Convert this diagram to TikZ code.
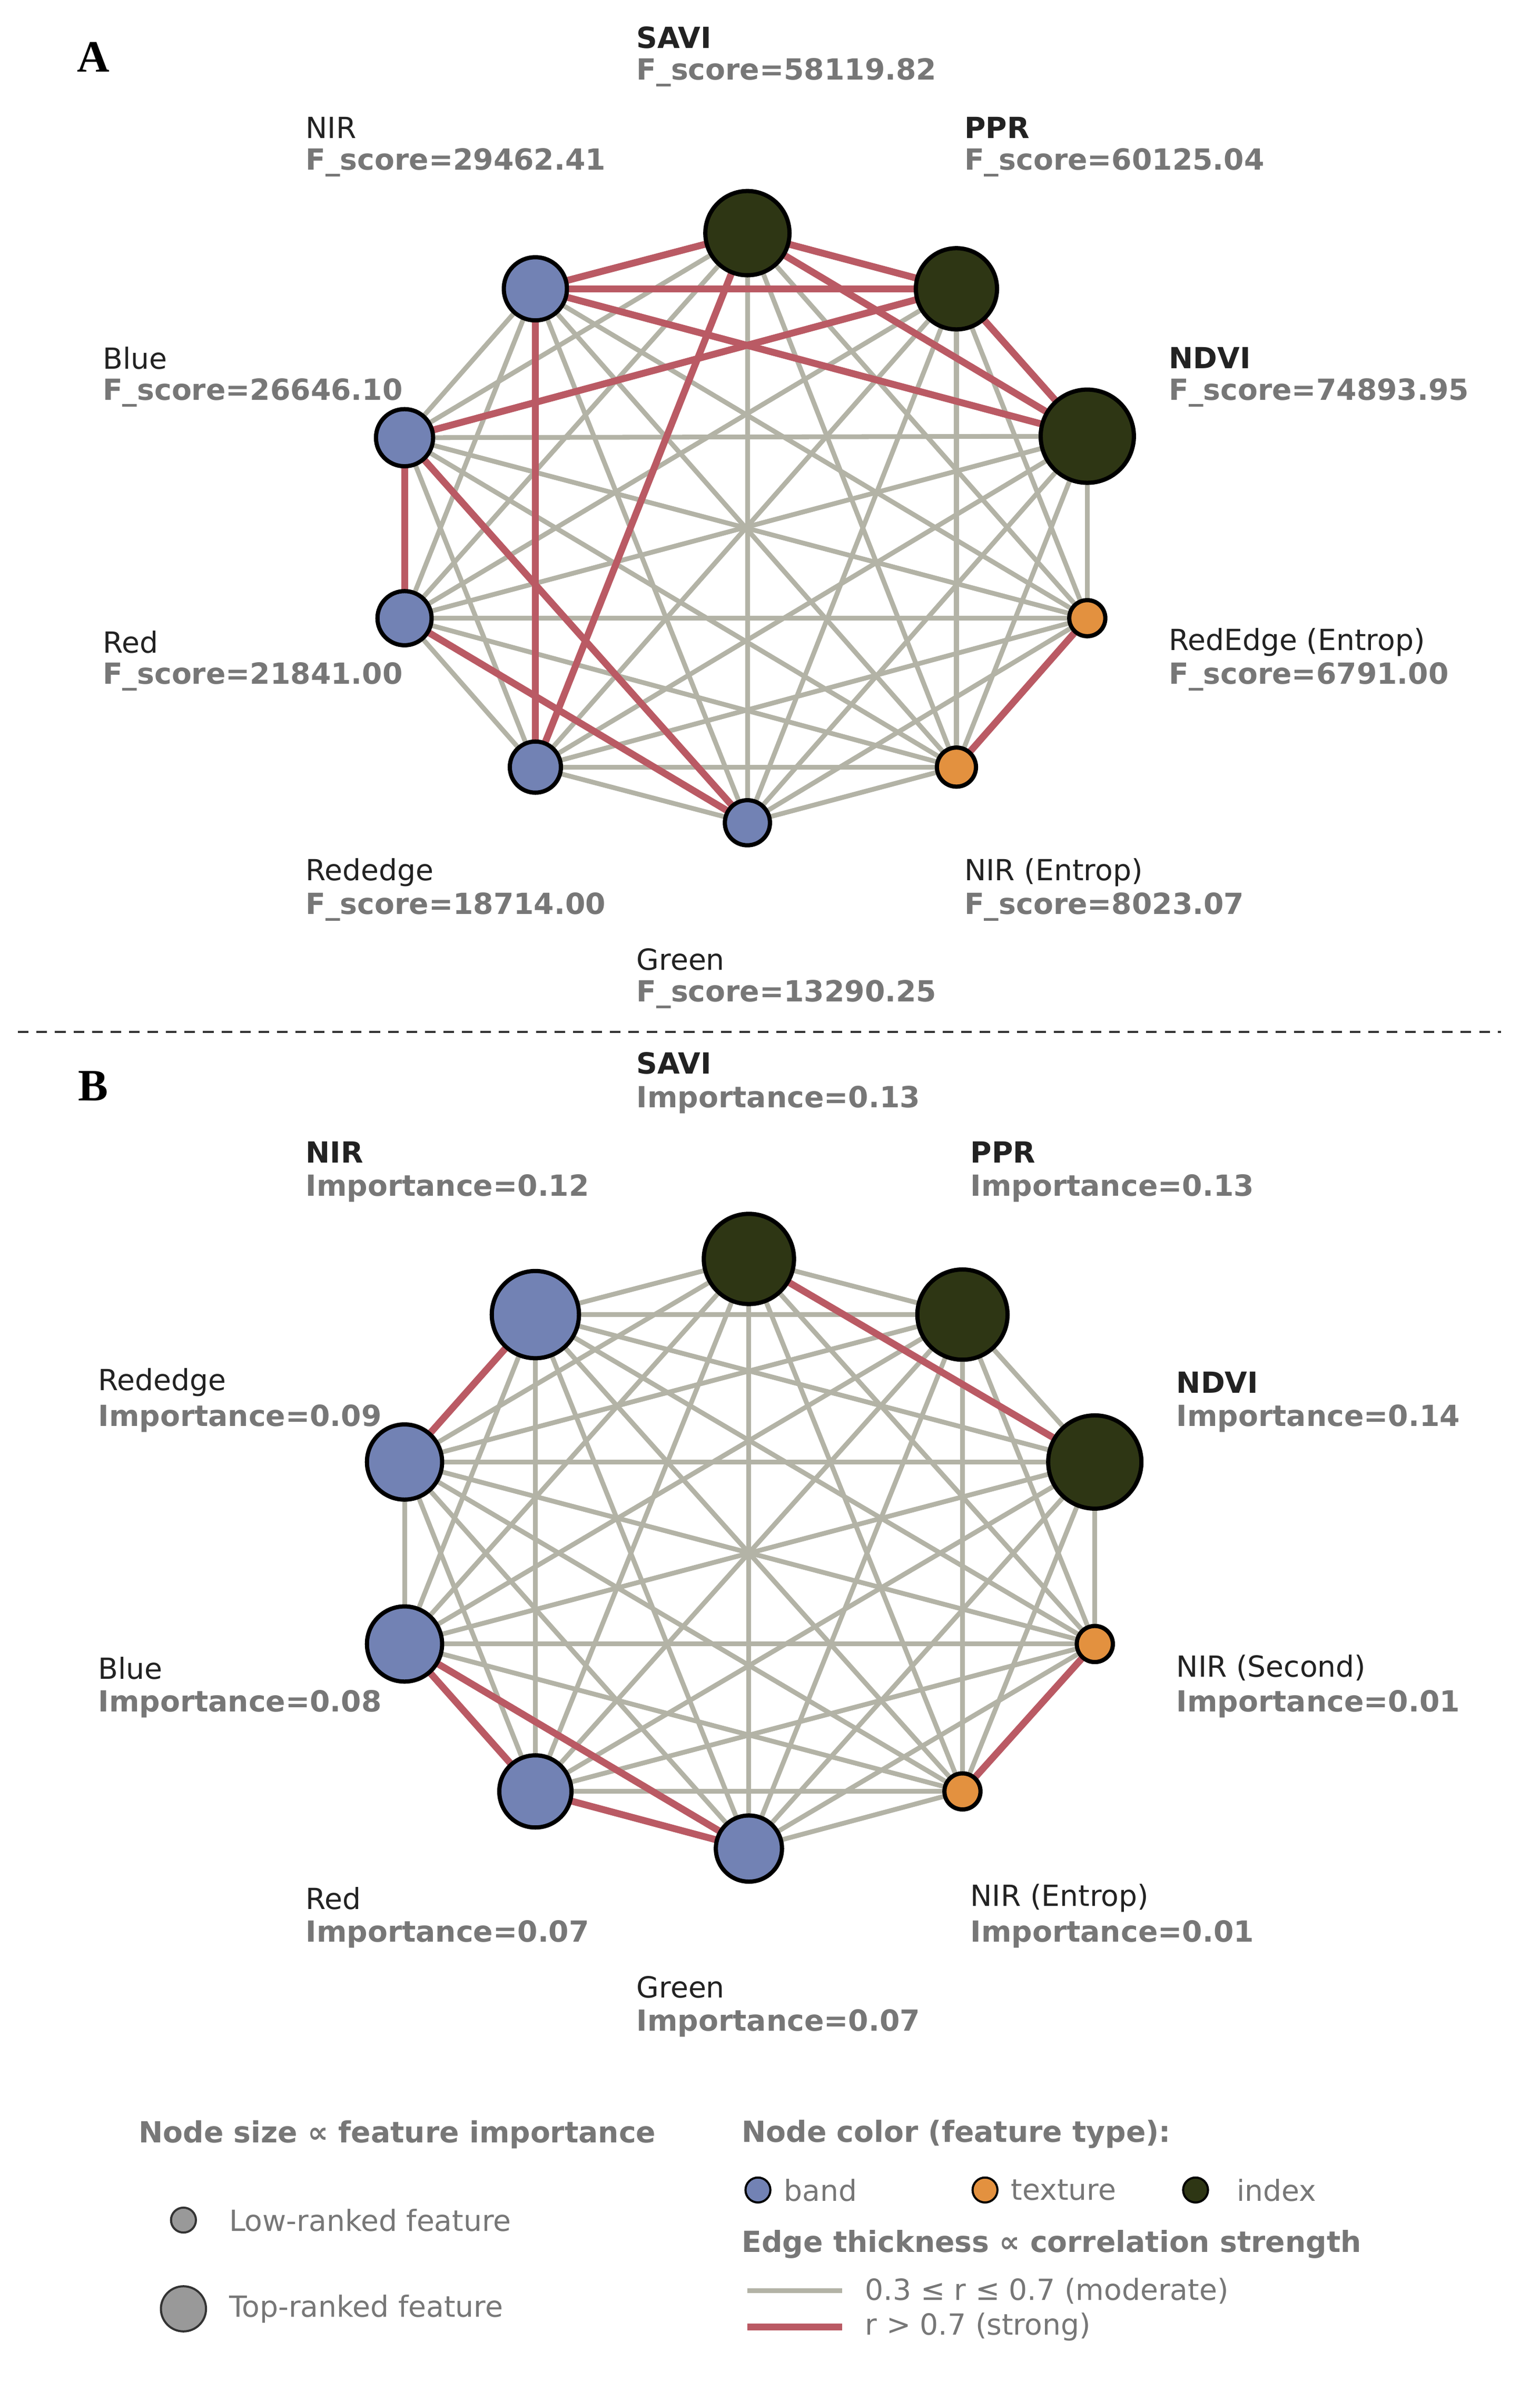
\documentclass[tikz,border=0pt]{standalone}
\usepackage{fontspec}
\setmainfont{DejaVu Sans}
\usetikzlibrary{backgrounds}
\definecolor{cband}{HTML}{7282B4}
\definecolor{ctex}{HTML}{E3913F}
\definecolor{cidx}{HTML}{2E3614}
\definecolor{cgray}{HTML}{B3B3A6}
\definecolor{cred}{HTML}{BA5A64}
\definecolor{lab}{HTML}{777777}
\definecolor{nm}{HTML}{222222}
\tikzset{
 nd/.style={circle,draw=black,line width=1.6pt,inner sep=0pt},
 ge/.style={cgray,line width=1.8pt},
 re/.style={cred,line width=2.6pt},
 tx/.style={anchor=west,inner sep=0pt,font=\fontsize{11pt}{13pt}\selectfont},
 nmn/.style={tx,text=nm},
 nmb/.style={tx,text=nm,font=\fontsize{11pt}{13pt}\selectfont\bfseries},
 val/.style={tx,text=lab,font=\fontsize{11pt}{13pt}\selectfont\bfseries},
 leg/.style={tx,text=lab},
}
\newcommand{\nd}[5]{\node[nd,fill=#4,minimum size=#5*0.04cm] (#1) at (#2,#3) {};}
\begin{document}
\begin{tikzpicture}[x=0.02cm,y=-0.02cm]
\useasboundingbox (0,0) rectangle (1024,1583);
% Panel A
\node[font=\fontsize{17pt}{19pt}\selectfont\bfseries\rmfamily] (LA) at (62,38) {\fontspec{Liberation Serif}A};
\nd{a1}{497}{155}{cidx}{28}
\nd{a2}{636}{192}{cidx}{27}
\nd{a3}{723}{290}{cidx}{31}
\nd{a4}{723}{411}{ctex}{12}
\nd{a5}{636}{510}{ctex}{13}
\nd{a6}{497}{547}{cband}{15}
\nd{a7}{356}{510}{cband}{17}
\nd{a8}{269}{411}{cband}{18}
\nd{a9}{269}{291}{cband}{19}
\nd{a10}{356}{192}{cband}{21}
\begin{scope}[on background layer]
\foreach \i in {1,...,10}{\foreach \j in {1,...,10}{\ifnum\j>\i \draw[ge] (a\i.center)--(a\j.center);\fi}}
\foreach \i/\j in {1/10,1/2,1/3,1/7,10/2,10/3,10/7,2/9,2/3,9/8,9/6,8/6,4/5}{\draw[re] (a\i.center)--(a\j.center);}
\end{scope}
\node[nmb] (t1) at (423,25) {SAVI}; \node[val] (v1) at (423,48) {F\_score=58119.82};
\node[nmn] (t2) at (203,85) {NIR}; \node[val] (v2) at (203,108) {F\_score=29462.41};
\node[nmb] (t3) at (641,85) {PPR}; \node[val] (v3) at (641,108) {F\_score=60125.04};
\node[nmn] (t4) at (68,238) {Blue}; \node[val] (v4) at (68,261) {F\_score=26646.10};
\node[nmb] (t5) at (777,238) {NDVI}; \node[val] (v5) at (777,261) {F\_score=74893.95};
\node[nmn] (t6) at (68,427) {Red}; \node[val] (v6) at (68,450) {F\_score=21841.00};
\node[nmn] (t7) at (777,427) {RedEdge (Entrop)}; \node[val] (v7) at (777,450) {F\_score=6791.00};
\node[nmn] (t8) at (203,580) {Rededge}; \node[val] (v8) at (203,603) {F\_score=18714.00};
\node[nmn] (t9) at (641,580) {NIR (Entrop)}; \node[val] (v9) at (641,603) {F\_score=8023.07};
\node[nmn] (t10) at (423,638) {Green}; \node[val] (v10) at (423,661) {F\_score=13290.25};
\coordinate (d1) at (12,686); \coordinate (d2) at (998,686);
\draw[black!80,line width=0.8pt,dash pattern=on 4pt off 3pt] (d1)--(d2);
% Panel B
\node[font=\fontsize{17pt}{19pt}\selectfont\bfseries] (LB) at (62,722) {\fontspec{Liberation Serif}B};
\nd{b1}{498}{837}{cidx}{30}
\nd{b2}{640}{874}{cidx}{30}
\nd{b3}{728}{972}{cidx}{31}
\nd{b4}{728}{1093}{ctex}{12}
\nd{b5}{640}{1191}{ctex}{12}
\nd{b6}{498}{1229}{cband}{22}
\nd{b7}{356}{1191}{cband}{24}
\nd{b8}{269}{1093}{cband}{25}
\nd{b9}{269}{972}{cband}{25}
\nd{b10}{356}{874}{cband}{29}
\begin{scope}[on background layer]
\foreach \i in {1,...,10}{\foreach \j in {1,...,10}{\ifnum\j>\i \draw[ge] (b\i.center)--(b\j.center);\fi}}
\foreach \i/\j in {10/9,1/3,8/7,8/6,7/6,4/5}{\draw[re] (b\i.center)--(b\j.center);}
\end{scope}
\node[nmb] (s1) at (423,707) {SAVI}; \node[val] (w1) at (423,731) {Importance=0.13};
\node[nmb] (s2) at (203,766) {NIR}; \node[val] (w2) at (203,790) {Importance=0.12};
\node[nmb] (s3) at (645,766) {PPR}; \node[val] (w3) at (645,790) {Importance=0.13};
\node[nmn] (s4) at (65,919) {Rededge}; \node[val] (w4) at (65,943) {Importance=0.09};
\node[nmb] (s5) at (782,919) {NDVI}; \node[val] (w5) at (782,943) {Importance=0.14};
\node[nmn] (s6) at (65,1109) {Blue}; \node[val] (w6) at (65,1133) {Importance=0.08};
\node[nmn] (s7) at (782,1109) {NIR (Second)}; \node[val] (w7) at (782,1133) {Importance=0.01};
\node[nmn] (s8) at (203,1262) {Red}; \node[val] (w8) at (203,1286) {Importance=0.07};
\node[nmn] (s9) at (645,1262) {NIR (Entrop)}; \node[val] (w9) at (645,1286) {Importance=0.01};
\node[nmn] (s10) at (423,1321) {Green}; \node[val] (w10) at (423,1345) {Importance=0.07};
% Legend
\node[val] (h1) at (92,1419) {Node size ∝ feature importance};
\node[circle,draw=black!80,fill=black!40,line width=0.8pt,minimum size=0.28cm] (c1) at (122,1476) {};
\node[leg] (l1) at (152,1476) {Low-ranked feature};
\node[circle,draw=black!80,fill=black!40,line width=0.8pt,minimum size=0.6cm] (c2) at (122,1535) {};
\node[leg] (l2) at (152,1535) {Top-ranked feature};
\node[val] (h2) at (493,1419) {Node color (feature type):};
\node[circle,draw=black,fill=cband,line width=0.8pt,minimum size=0.28cm] (k1) at (504,1456) {};
\node[leg] (m1) at (521,1456) {band};
\node[circle,draw=black,fill=ctex,line width=0.8pt,minimum size=0.28cm] (k2) at (655,1456) {};
\node[leg] (m2) at (672,1456) {texture};
\node[circle,draw=black,fill=cidx,line width=0.8pt,minimum size=0.28cm] (k3) at (795,1456) {};
\node[leg] (m3) at (822,1456) {index};
\node[val] (h3) at (493,1492) {Edge thickness ∝ correlation strength};
\coordinate (e1) at (497,1523); \coordinate (e2) at (560,1523);
\draw[ge] (e1)--(e2);
\node[leg] (n1) at (575,1523) {0.3 ≤ r ≤ 0.7 (moderate)};
\coordinate (e3) at (497,1547); \coordinate (e4) at (560,1547);
\draw[re] (e3)--(e4);
\node[leg] (n2) at (575,1547) {r > 0.7 (strong)};
\end{tikzpicture}
\end{document}
